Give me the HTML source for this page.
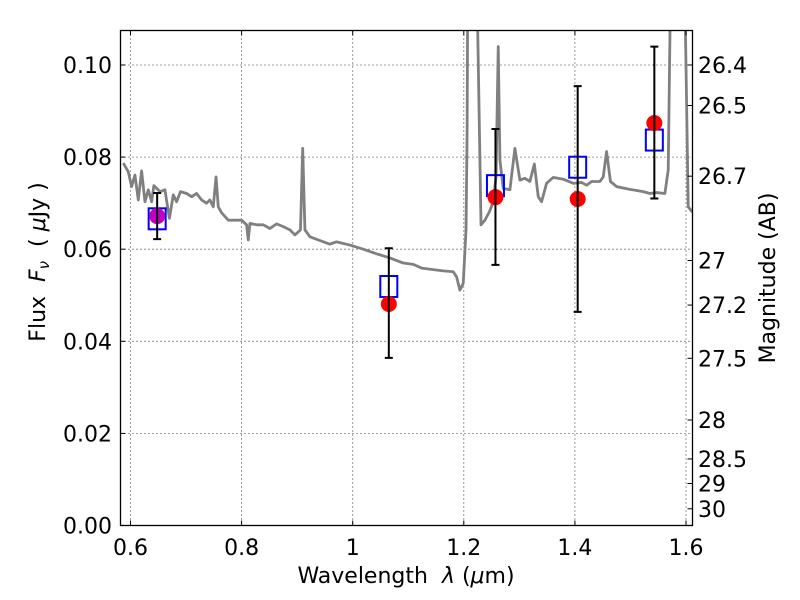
<!DOCTYPE html>
<html><head><meta charset="utf-8"><style>
body{margin:0;background:#fff;}
svg{display:block;font-family:"DejaVu Sans","Liberation Sans",sans-serif;}
</style></head><body>
<svg id="chart" width="800" height="600" viewBox="0 0 800 600" xmlns="http://www.w3.org/2000/svg">
<defs><clipPath id="clip"><rect x="120.5" y="30.5" width="572" height="495"/></clipPath></defs>
<rect width="800" height="600" fill="#fff"/>
<g id="grid"></g>
<g id="spec" clip-path="url(#clip)"></g>
<g id="pts"></g>
<g id="axes"></g>
<text x="406" y="583" font-size="22" text-anchor="middle" xml:space="preserve">Wavelength  <tspan font-style="italic">λ</tspan> (<tspan font-style="italic">μ</tspan>m)</text>
<text transform="translate(45,262) rotate(-90)" font-size="22" text-anchor="middle" xml:space="preserve">Flux  <tspan font-style="italic">F</tspan><tspan font-style="italic" font-size="15" dy="4">ν</tspan><tspan dy="-4">  ( <tspan font-style="italic">μ</tspan>Jy )</tspan></text>
<text transform="translate(775,278) rotate(-90)" font-size="22" text-anchor="middle">Magnitude (AB)</text>
</svg>
<script>
const xTicks=[0.6,0.8,1.0,1.2,1.4,1.6];
const xTickLabels=["0.6","0.8","1","1.2","1.4","1.6"];
const yTicks=[0,0.02,0.04,0.06,0.08,0.10];
const yTickLabels=["0.00","0.02","0.04","0.06","0.08","0.10"];
const magTicks=[26.4,26.5,26.7,27,27.2,27.5,28,28.5,29,30];
const magTickLabels=["26.4","26.5","26.7","27","27.2","27.5","28","28.5","29","30"];
const specLam=[0.587,0.596,0.602,0.608,0.614,0.620,0.626,0.632,0.638,0.642,0.653,0.662,0.670,0.677,0.683,0.690,0.701,0.710,0.719,0.728,0.737,0.743,0.749,0.754,0.758,0.764,0.776,0.791,0.800,0.809,0.812,0.815,0.827,0.839,0.851,0.863,0.875,0.887,0.896,0.906,0.910,0.914,0.923,0.938,0.959,0.971,0.995,1.019,1.043,1.067,1.091,1.109,1.124,1.163,1.181,1.187,1.193,1.199,1.204,1.206,1.207,1.224,1.231,1.238,1.246,1.253,1.258,1.262,1.265,1.271,1.283,1.292,1.301,1.310,1.319,1.327,1.334,1.340,1.349,1.361,1.379,1.397,1.412,1.421,1.430,1.445,1.451,1.457,1.464,1.475,1.499,1.523,1.535,1.547,1.562,1.568,1.572,1.598,1.604,1.612];
const specFlux=[0.0787,0.0768,0.0736,0.0761,0.0707,0.0770,0.0703,0.0729,0.0703,0.0738,0.0725,0.0729,0.0667,0.0718,0.0703,0.0725,0.0721,0.0714,0.0721,0.0707,0.0700,0.0707,0.0692,0.0757,0.0692,0.0679,0.0663,0.0663,0.0663,0.0653,0.0620,0.0656,0.0653,0.0653,0.0645,0.0655,0.0649,0.0642,0.0631,0.0642,0.0819,0.0642,0.0627,0.0620,0.0611,0.0616,0.0609,0.0600,0.0590,0.0581,0.0570,0.0567,0.0559,0.0553,0.0551,0.0540,0.0511,0.0526,0.0642,0.0859,0.115,0.115,0.0653,0.0663,0.0681,0.0703,0.0757,0.1040,0.0794,0.0732,0.0729,0.0819,0.0750,0.0754,0.0747,0.0785,0.0714,0.0703,0.0743,0.0756,0.0752,0.0743,0.0745,0.0739,0.0747,0.0747,0.0757,0.0812,0.0747,0.0736,0.0730,0.0725,0.0721,0.0723,0.0721,0.0772,0.115,0.115,0.0692,0.0680];
const obsLam=[0.648,1.065,1.257,1.405,1.543];
const obsFlux=[0.0672,0.0481,0.0713,0.0709,0.0874];
const errHi=[0.0722,0.0602,0.0861,0.0954,0.1040];
const errLo=[0.0622,0.0364,0.0566,0.0464,0.0710];
const modelFlux=[0.0666,0.0519,0.0738,0.0778,0.0837];
const obsColors=["#bf00bf","red","red","red","red"];

const L=120.5,R=692.5,T=30.5,B=525.5;
const X=v=>130.5+(v-0.6)*555.5;
const Y=v=>525.5-v*4605;
const magToY=m=>Y(Math.pow(10,(23.9-m)/2.5));
const NS="http://www.w3.org/2000/svg";
function mk(tag,attrs,parent){const e=document.createElementNS(NS,tag);for(const k in attrs)e.setAttribute(k,attrs[k]);parent.appendChild(e);return e;}
const grid=document.getElementById('grid'),axes=document.getElementById('axes'),spec=document.getElementById('spec'),pts=document.getElementById('pts');

xTicks.forEach((t,i)=>{
  const x=X(t);
  const g=mk('line',{x1:x,x2:x,y1:T,y2:B,stroke:'#000','stroke-width':0.8,'stroke-dasharray':'1,3'},grid);
  
  
  mk('line',{x1:x,x2:x,y1:B,y2:B-5,stroke:'#000','stroke-width':1},axes);
  mk('line',{x1:x,x2:x,y1:T,y2:T+5,stroke:'#000','stroke-width':1},axes);
  const tx=mk('text',{x:x,y:555,'font-size':22,'text-anchor':'middle'},axes);
  tx.textContent=xTickLabels[i];
  
  
});
yTicks.forEach((t,i)=>{
  const y=Y(t);
  if(t>0){const g=mk('line',{x1:L,x2:R,y1:y,y2:y,stroke:'#000','stroke-width':0.8,'stroke-dasharray':'1,3'},grid);
  
  }
  mk('line',{x1:L,x2:L+5,y1:y,y2:y,stroke:'#000','stroke-width':1},axes);
  const tx=mk('text',{x:112,y:y+8,'font-size':22,'text-anchor':'end'},axes);
  tx.textContent=yTickLabels[i];
  
  
});
magTicks.forEach((m,i)=>{
  const y=magToY(m);
  mk('line',{x1:R,x2:R-5,y1:y,y2:y,stroke:'#000','stroke-width':1},axes);
  const tx=mk('text',{x:698,y:y+8,'font-size':22},axes);
  tx.textContent=magTickLabels[i];
  
  
});
const frame=mk('rect',{x:L,y:T,width:R-L,height:B-T,fill:'none',stroke:'#000','stroke-width':1.3},axes);



const sp=mk('polyline',{points:specLam.map((l,i)=>X(l)+','+Y(specFlux[i])).join(' '),fill:'none',stroke:'#808080','stroke-width':2.8,'stroke-linejoin':'round'},spec);



obsLam.forEach((l,i)=>{
  const x=X(l);
  const sq=mk('rect',{x:x-8.5,y:Y(modelFlux[i])-10.5,width:17,height:21,fill:'none',stroke:'#0000ff','stroke-width':2},pts);
  
  
  const c=mk('circle',{cx:x,cy:Y(obsFlux[i]),r:8,fill:obsColors[i]},pts);
  
  
  const e=mk('path',{d:`M${x},${Y(errHi[i])}V${Y(errLo[i])}M${x-4},${Y(errHi[i])}h8M${x-4},${Y(errLo[i])}h8`,stroke:'#000','stroke-width':2,fill:'none'},pts);
  
  
});
</script>
</body></html>
